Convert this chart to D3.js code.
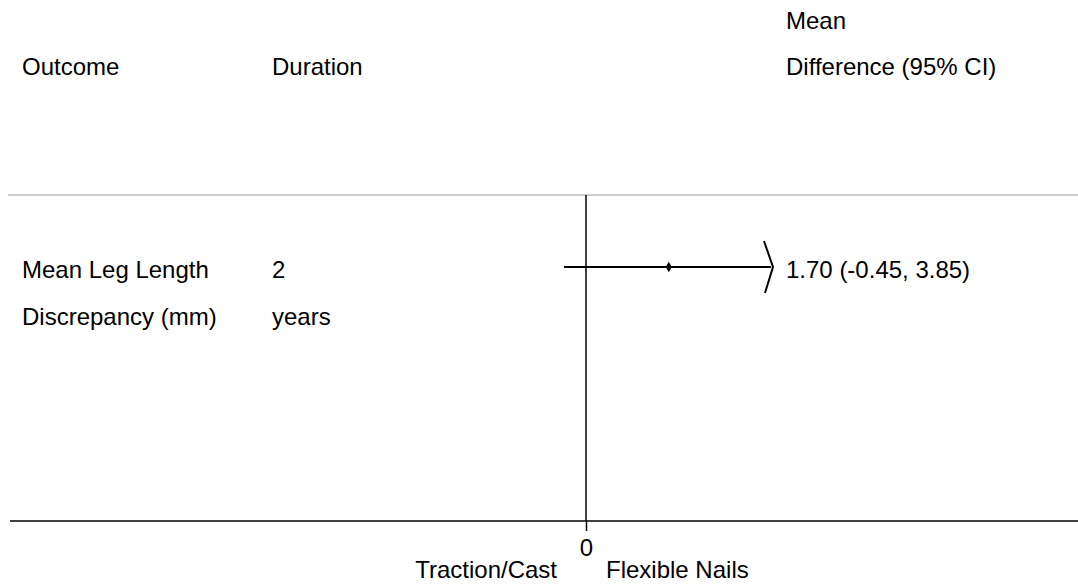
<!DOCTYPE html>
<html>
<head>
<meta charset="utf-8">
<script src="https://cdn.jsdelivr.net/npm/d3@7"></script>
<style>
  body { margin: 0; background: #fff; }
  text { font-family: "Liberation Sans", Arial, sans-serif; fill: #000; }
</style>
</head>
<body>
<div id="chart"></div>
<script>
// data
var outcomes = [["Mean Leg Length", "Discrepancy (mm)"]];
var durations = [["2", "years"]];
var means = [1.70];
var lower = [-0.45];
var upper = [3.85];
var ciLabels = ["1.70 (-0.45, 3.85)"];
var headers = ["Outcome", "Duration", "Mean", "Difference (95% CI)"];
var favourLabels = ["Traction/Cast", "Flexible Nails"];
var xDomain = [-3.8, 3.8];

var width = 1078, height = 584, fs = 24;

var svg = d3.select("#chart").append("svg")
  .attr("width", width).attr("height", height);

var x = d3.scaleLinear().domain(xDomain).range([401, 771]);
var xMin = x(xDomain[0]), xMax = x(xDomain[1]);

var lineY = function (i) { return 267 + i * 140; };

// column headers
svg.append("text").attr("x", 22).attr("y", 75).style("font-size", fs + "px").text(headers[0]);
svg.append("text").attr("x", 272).attr("y", 75).style("font-size", fs + "px").text(headers[1]);
svg.append("text").attr("x", 786).attr("y", 29).style("font-size", fs + "px").text(headers[2]);
svg.append("text").attr("x", 786).attr("y", 75).style("font-size", fs + "px").text(headers[3]);

// header separator
svg.append("line").attr("x1", 8).attr("x2", width).attr("y1", 195).attr("y2", 195)
  .attr("stroke", "#cccccc").attr("stroke-width", 2);

// zero line
svg.append("line").attr("x1", x(0)).attr("x2", x(0)).attr("y1", 195).attr("y2", 521)
  .attr("stroke", "#000").attr("stroke-width", 1.5);

// rows
var rows = svg.append("g").selectAll("g").data(means).enter().append("g");

rows.append("text").attr("x", 22).attr("y", function (d, i) { return lineY(i) + 11; })
  .style("font-size", fs + "px").text(function (d, i) { return outcomes[i][0]; });
rows.append("text").attr("x", 22).attr("y", function (d, i) { return lineY(i) + 58; })
  .style("font-size", fs + "px").text(function (d, i) { return outcomes[i][1]; });
rows.append("text").attr("x", 272).attr("y", function (d, i) { return lineY(i) + 11; })
  .style("font-size", fs + "px").text(function (d, i) { return durations[i][0]; });
rows.append("text").attr("x", 272).attr("y", function (d, i) { return lineY(i) + 58; })
  .style("font-size", fs + "px").text(function (d, i) { return durations[i][1]; });

// CI lines (clipped to axis range)
rows.append("line")
  .attr("x1", function (d, i) { return Math.max(x(lower[i]), xMin); })
  .attr("x2", function (d, i) { return Math.min(x(upper[i]), xMax); })
  .attr("y1", function (d, i) { return lineY(i); })
  .attr("y2", function (d, i) { return lineY(i); })
  .attr("stroke", "#000").attr("stroke-width", 2);

// arrow for truncated upper bound
rows.filter(function (d, i) { return x(upper[i]) > xMax; }).append("path")
  .attr("d", function (d) {
    var i = means.indexOf(d), y = lineY(i), t = xMax + 2;
    return "M" + (t - 9) + "," + (y - 26) + "L" + t + "," + y + "L" + (t - 8) + "," + (y + 26);
  })
  .attr("fill", "none").attr("stroke", "#000").attr("stroke-width", 2);

// point estimate
rows.append("path")
  .attr("d", d3.symbol().type(d3.symbolDiamond).size(32))
  .attr("transform", function (d, i) { return "translate(" + x(d) + "," + lineY(i) + ")"; })
  .attr("fill", "#000");

rows.append("text").attr("x", 786).attr("y", function (d, i) { return lineY(i) + 11; })
  .style("font-size", fs + "px").text(function (d, i) { return ciLabels[i]; });

// bottom axis
svg.append("line").attr("x1", 10).attr("x2", width).attr("y1", 521).attr("y2", 521)
  .attr("stroke", "#000").attr("stroke-width", 1.5);
var axis = svg.append("g").attr("transform", "translate(0,521)")
  .call(d3.axisBottom(x).tickValues([0]).tickSize(10).tickPadding(8));
axis.select(".domain").remove();
axis.selectAll(".tick line").attr("stroke", "#000").attr("stroke-width", 1.5);
axis.selectAll(".tick text").style("font-size", fs + "px").attr("fill", "#000")
  .style("font-family", "'Liberation Sans', Arial, sans-serif");

svg.append("text").attr("x", x(0) - 29).attr("y", 578).attr("text-anchor", "end")
  .style("font-size", fs + "px").text(favourLabels[0]);
svg.append("text").attr("x", x(0) + 20).attr("y", 578)
  .style("font-size", fs + "px").text(favourLabels[1]);
</script>
</body>
</html>
